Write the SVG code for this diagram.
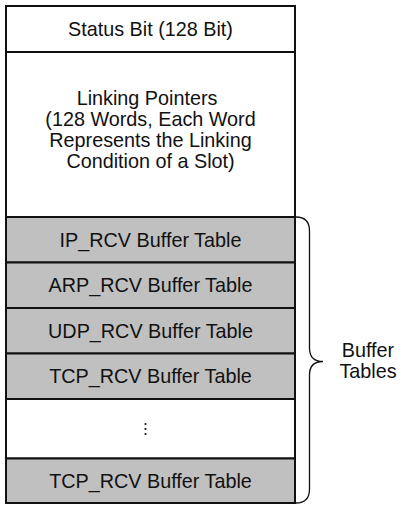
<svg xmlns="http://www.w3.org/2000/svg" width="406" height="505" viewBox="0 0 406 505">
  <style>
    .cell { stroke: #111; stroke-width: 2; }
    .plain { fill: #ffffff; }
    .table { fill: #c0c0c0; }
    .lbl { font-family: "Liberation Sans", Arial, sans-serif; font-size: 19.8px; fill: #111; text-anchor: middle; }
    .brace { fill: none; stroke: #111; stroke-width: 1.3; }
  </style>
  <rect width="406" height="505" fill="#ffffff"/>

  <g id="status-bit">
    <rect class="cell plain" x="6" y="6" width="289" height="46"/>
    <text class="lbl" x="150.5" y="35.5">Status Bit (128 Bit)</text>
  </g>

  <g id="linking-pointers">
    <rect class="cell plain" x="6" y="52" width="289" height="165"/>
    <text class="lbl" x="147" y="105">Linking Pointers</text>
    <text class="lbl" x="150.5" y="126">(128 Words, Each Word</text>
    <text class="lbl" x="150.5" y="147">Represents the Linking</text>
    <text class="lbl" x="150.5" y="168">Condition of a Slot)</text>
  </g>

  <g id="ip-rcv">
    <rect class="cell table" x="6" y="217" width="289" height="45.5"/>
    <text class="lbl" x="150.5" y="246.5">IP_RCV Buffer Table</text>
  </g>

  <g id="arp-rcv">
    <rect class="cell table" x="6" y="262.5" width="289" height="45.5"/>
    <text class="lbl" x="150.5" y="292">ARP_RCV Buffer Table</text>
  </g>

  <g id="udp-rcv">
    <rect class="cell table" x="6" y="308" width="289" height="45.5"/>
    <text class="lbl" x="150.5" y="337.5">UDP_RCV Buffer Table</text>
  </g>

  <g id="tcp-rcv-1">
    <rect class="cell table" x="6" y="353.5" width="289" height="45.5"/>
    <text class="lbl" x="150.5" y="383">TCP_RCV Buffer Table</text>
  </g>

  <g id="ellipsis-row">
    <rect class="cell plain" x="6" y="399" width="289" height="59.5"/>
    <circle cx="145.5" cy="424" r="1.1" fill="#111"/>
    <circle cx="145.5" cy="429" r="1.1" fill="#111"/>
    <circle cx="145.5" cy="434" r="1.1" fill="#111"/>
  </g>

  <g id="tcp-rcv-n">
    <rect class="cell table" x="6" y="458.5" width="289" height="44.5"/>
    <text class="lbl" x="150.5" y="487.5">TCP_RCV Buffer Table</text>
  </g>

  <g id="connectors">
    <path class="brace" d="M296,217 Q309.5,217 309.5,231 L309.5,348 Q309.5,361.5 323,361.5 Q309.5,361.5 309.5,375 L309.5,489 Q309.5,503 296,503"/>
  </g>

  <g id="buffer-tables-label">
    <text class="lbl" x="368" y="357">Buffer</text>
    <text class="lbl" x="368" y="378">Tables</text>
  </g>
</svg>
